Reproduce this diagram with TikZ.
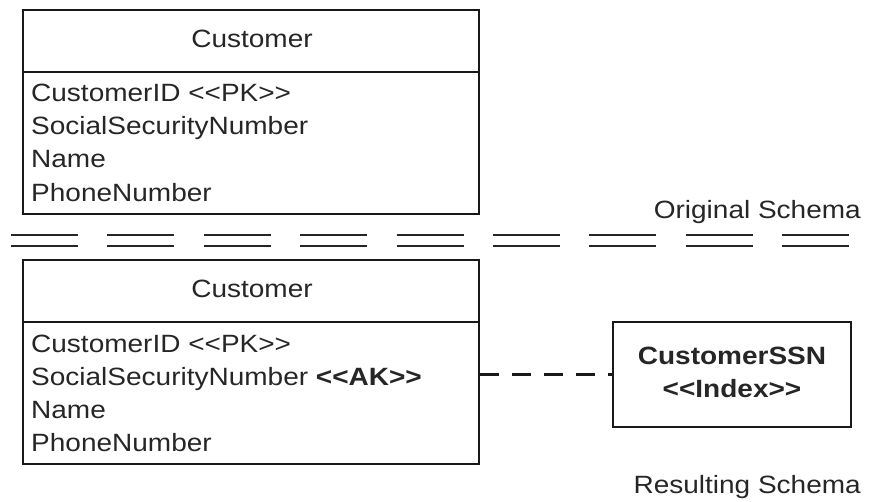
\documentclass[tikz,border=0pt]{standalone}
\usepackage{fontspec}
\setmainfont[FakeStretch=1.12]{Liberation Sans}
\usetikzlibrary{positioning}

\begin{document}
\begin{tikzpicture}[
      x=1pt, y=-1pt,
      every node/.style={font=\fontsize{25}{30}\selectfont, text=black!85},
      box/.style={draw=black!90, line width=2.8pt, inner sep=0pt},
      attr/.style={anchor=base west, inner sep=0pt},
      title/.style={anchor=base, inner sep=0pt},
      caption/.style={anchor=base east, inner sep=0pt},
      sep/.style={line width=2.8pt, black!85},
      link/.style={line width=2.8pt, black!90, dash pattern=on 19pt off 13pt}
  ]
      \useasboundingbox (0,0) rectangle (877,502);

      % Original schema
      \node[box, minimum width=456pt, minimum height=62pt] (origHead) at (251,41) {};
      \node[box, minimum width=456pt, minimum height=142pt] (origBody) at (251,143) {};
      \node[title] (origName) at (252,48) {Customer};
      \node[attr] (origPK) at (31,102) {CustomerID <{}<PK>{}>};
      \node[attr] (origSSN) at (31,135) {SocialSecurityNumber};
      \node[attr] (origNm) at (31,168) {Name};
      \node[attr] (origPh) at (31,202) {PhoneNumber};
      \node[caption] (origCap) at (861,219) {Original Schema};

      % Separator
      \foreach \i in {0,...,8} {
          \draw[sep] (11+96.4*\i,235) -- ++(67,0);
          \draw[sep] (11+96.4*\i,246) -- ++(67,0);
      }

      % Resulting schema
      \node[box, minimum width=456pt, minimum height=62pt] (resHead) at (251,291) {};
      \node[box, minimum width=456pt, minimum height=142pt] (resBody) at (251,393) {};
      \node[title] (resName) at (252,298) {Customer};
      \node[attr] (resPK) at (31,352) {CustomerID <{}<PK>{}>};
      \node[attr] (resSSN) at (31,385) {SocialSecurityNumber \textbf{<{}<AK>{}>}};
      \node[attr] (resNm) at (31,418) {Name};
      \node[attr] (resPh) at (31,451) {PhoneNumber};

      \node[box, minimum width=238pt, minimum height=105pt] (ssnIdx) at (732,374.5) {};
      \node[title, font=\fontsize{25}{30}\selectfont\bfseries] (ssnName) at (732,364) {CustomerSSN};
      \node[title, font=\fontsize{25}{30}\selectfont\bfseries] (ssnType) at (732,397) {<{}<Index>{}>};
      \draw[link] (resBody.east |- ssnIdx.west) -- (ssnIdx.west);

      \node[caption] (resCap) at (861,493) {Resulting Schema};
  \end{tikzpicture}
\end{document}
